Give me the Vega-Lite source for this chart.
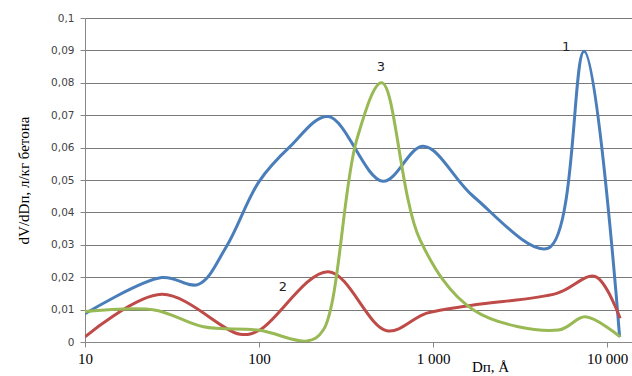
{
  "$schema": "https://vega.github.io/schema/vega-lite/v6.json",
  "width": 547,
  "height": 324,
  "autosize": {"type": "none"},
  "padding": {"left": 85, "top": 18, "right": 0, "bottom": 34},
  "background": "white",
  "config": {"view": {"stroke": null}},
  "datasets": {
    "curves": [
      {"s": "1", "d": 10, "v": 0.0087},
      {"s": "1", "d": 27.6, "v": 0.0199},
      {"s": "1", "d": 44.8, "v": 0.0178},
      {"s": "1", "d": 65, "v": 0.0295},
      {"s": "1", "d": 100, "v": 0.0495},
      {"s": "1", "d": 150, "v": 0.0602},
      {"s": "1", "d": 250, "v": 0.0696},
      {"s": "1", "d": 514, "v": 0.0496},
      {"s": "1", "d": 879, "v": 0.0604},
      {"s": "1", "d": 1706, "v": 0.0449},
      {"s": "1", "d": 4600, "v": 0.029},
      {"s": "1", "d": 7380, "v": 0.0897},
      {"s": "1", "d": 11800, "v": 0.0016},
      {"s": "2", "d": 10, "v": 0.0016},
      {"s": "2", "d": 27.6, "v": 0.0147},
      {"s": "2", "d": 77.8, "v": 0.0024},
      {"s": "2", "d": 101, "v": 0.0037},
      {"s": "2", "d": 250, "v": 0.0217},
      {"s": "2", "d": 542, "v": 0.0035},
      {"s": "2", "d": 920, "v": 0.0089},
      {"s": "2", "d": 1706, "v": 0.0114},
      {"s": "2", "d": 5140, "v": 0.015},
      {"s": "2", "d": 8530, "v": 0.0202},
      {"s": "2", "d": 11880, "v": 0.0073},
      {"s": "3", "d": 10, "v": 0.0094},
      {"s": "3", "d": 25, "v": 0.0099},
      {"s": "3", "d": 47.9, "v": 0.0047},
      {"s": "3", "d": 101, "v": 0.0036},
      {"s": "3", "d": 188, "v": 0.0003},
      {"s": "3", "d": 234, "v": 0.0037},
      {"s": "3", "d": 364, "v": 0.0624},
      {"s": "3", "d": 507, "v": 0.08},
      {"s": "3", "d": 842, "v": 0.0315},
      {"s": "3", "d": 1706, "v": 0.0099},
      {"s": "3", "d": 5250, "v": 0.0037},
      {"s": "3", "d": 7480, "v": 0.0078},
      {"s": "3", "d": 11880, "v": 0.0016}
    ],
    "labels": [
      {"s": "1", "d": 5810, "v": 0.0909},
      {"s": "2", "d": 137, "v": 0.017},
      {"s": "3", "d": 502, "v": 0.085}
    ]
  },
  "encoding": {
    "x": {
      "field": "d", "type": "quantitative",
      "scale": {"type": "log", "domain": [10, 13900], "nice": false},
      "axis": {
        "values": [10, 100, 1000, 10000],
        "labelExpr": "replace(format(datum.value, ','), ',', ' ')",
        "grid": false, "labelOverlap": false,
        "domainColor": "#888", "tickColor": "#888", "tickSize": 5,
        "labelFont": "Liberation Serif", "labelFontSize": 15, "labelColor": "#000",
        "labelPadding": 4, "labelFlush": false,
        "title": "Dп, Å",
        "titleFont": "Liberation Serif", "titleFontSize": 15, "titleFontWeight": "normal",
        "titleX": 405, "titleY": 24, "titleAlign": "center", "titleBaseline": "middle"
      }
    },
    "y": {
      "field": "v", "type": "quantitative",
      "scale": {"domain": [0, 0.1], "nice": false, "zero": true},
      "axis": {
        "values": [0, 0.01, 0.02, 0.03, 0.04, 0.05, 0.06, 0.07, 0.08, 0.09, 0.1],
        "tickCount": 11,
        "labelExpr": "replace(format(datum.value, '.2~f'), '.', ',')",
        "grid": true, "gridColor": "#7a7a7a", "gridWidth": 1, "labelOverlap": false,
        "domainColor": "#888", "tickColor": "#888", "tickSize": 5,
        "labelFont": "DejaVu Sans", "labelFontSize": 10.5, "labelColor": "#444",
        "labelPadding": 6,
        "title": "dV/dDп, л/кг бетона",
        "titleFont": "Liberation Serif", "titleFontSize": 15, "titleFontWeight": "normal",
        "titleX": -62, "titleY": 162, "titleAlign": "center", "titleBaseline": "middle", "titleAngle": -90
      }
    }
  },
  "layer": [
    {
      "data": {"name": "curves"},
      "mark": {"type": "line", "interpolate": "catmull-rom", "strokeWidth": 3, "clip": true},
      "encoding": {
        "color": {
          "field": "s", "type": "nominal",
          "scale": {"domain": ["1", "2", "3"], "range": ["#4A7EBB", "#BE4B48", "#98B954"]},
          "legend": null
        },
        "detail": {"field": "s"}
      }
    },
    {
      "data": {"name": "labels"},
      "mark": {"type": "text", "font": "DejaVu Sans", "fontSize": 13, "color": "#222", "align": "center", "baseline": "middle"},
      "encoding": {
        "text": {"field": "s"}
      }
    }
  ]
}
